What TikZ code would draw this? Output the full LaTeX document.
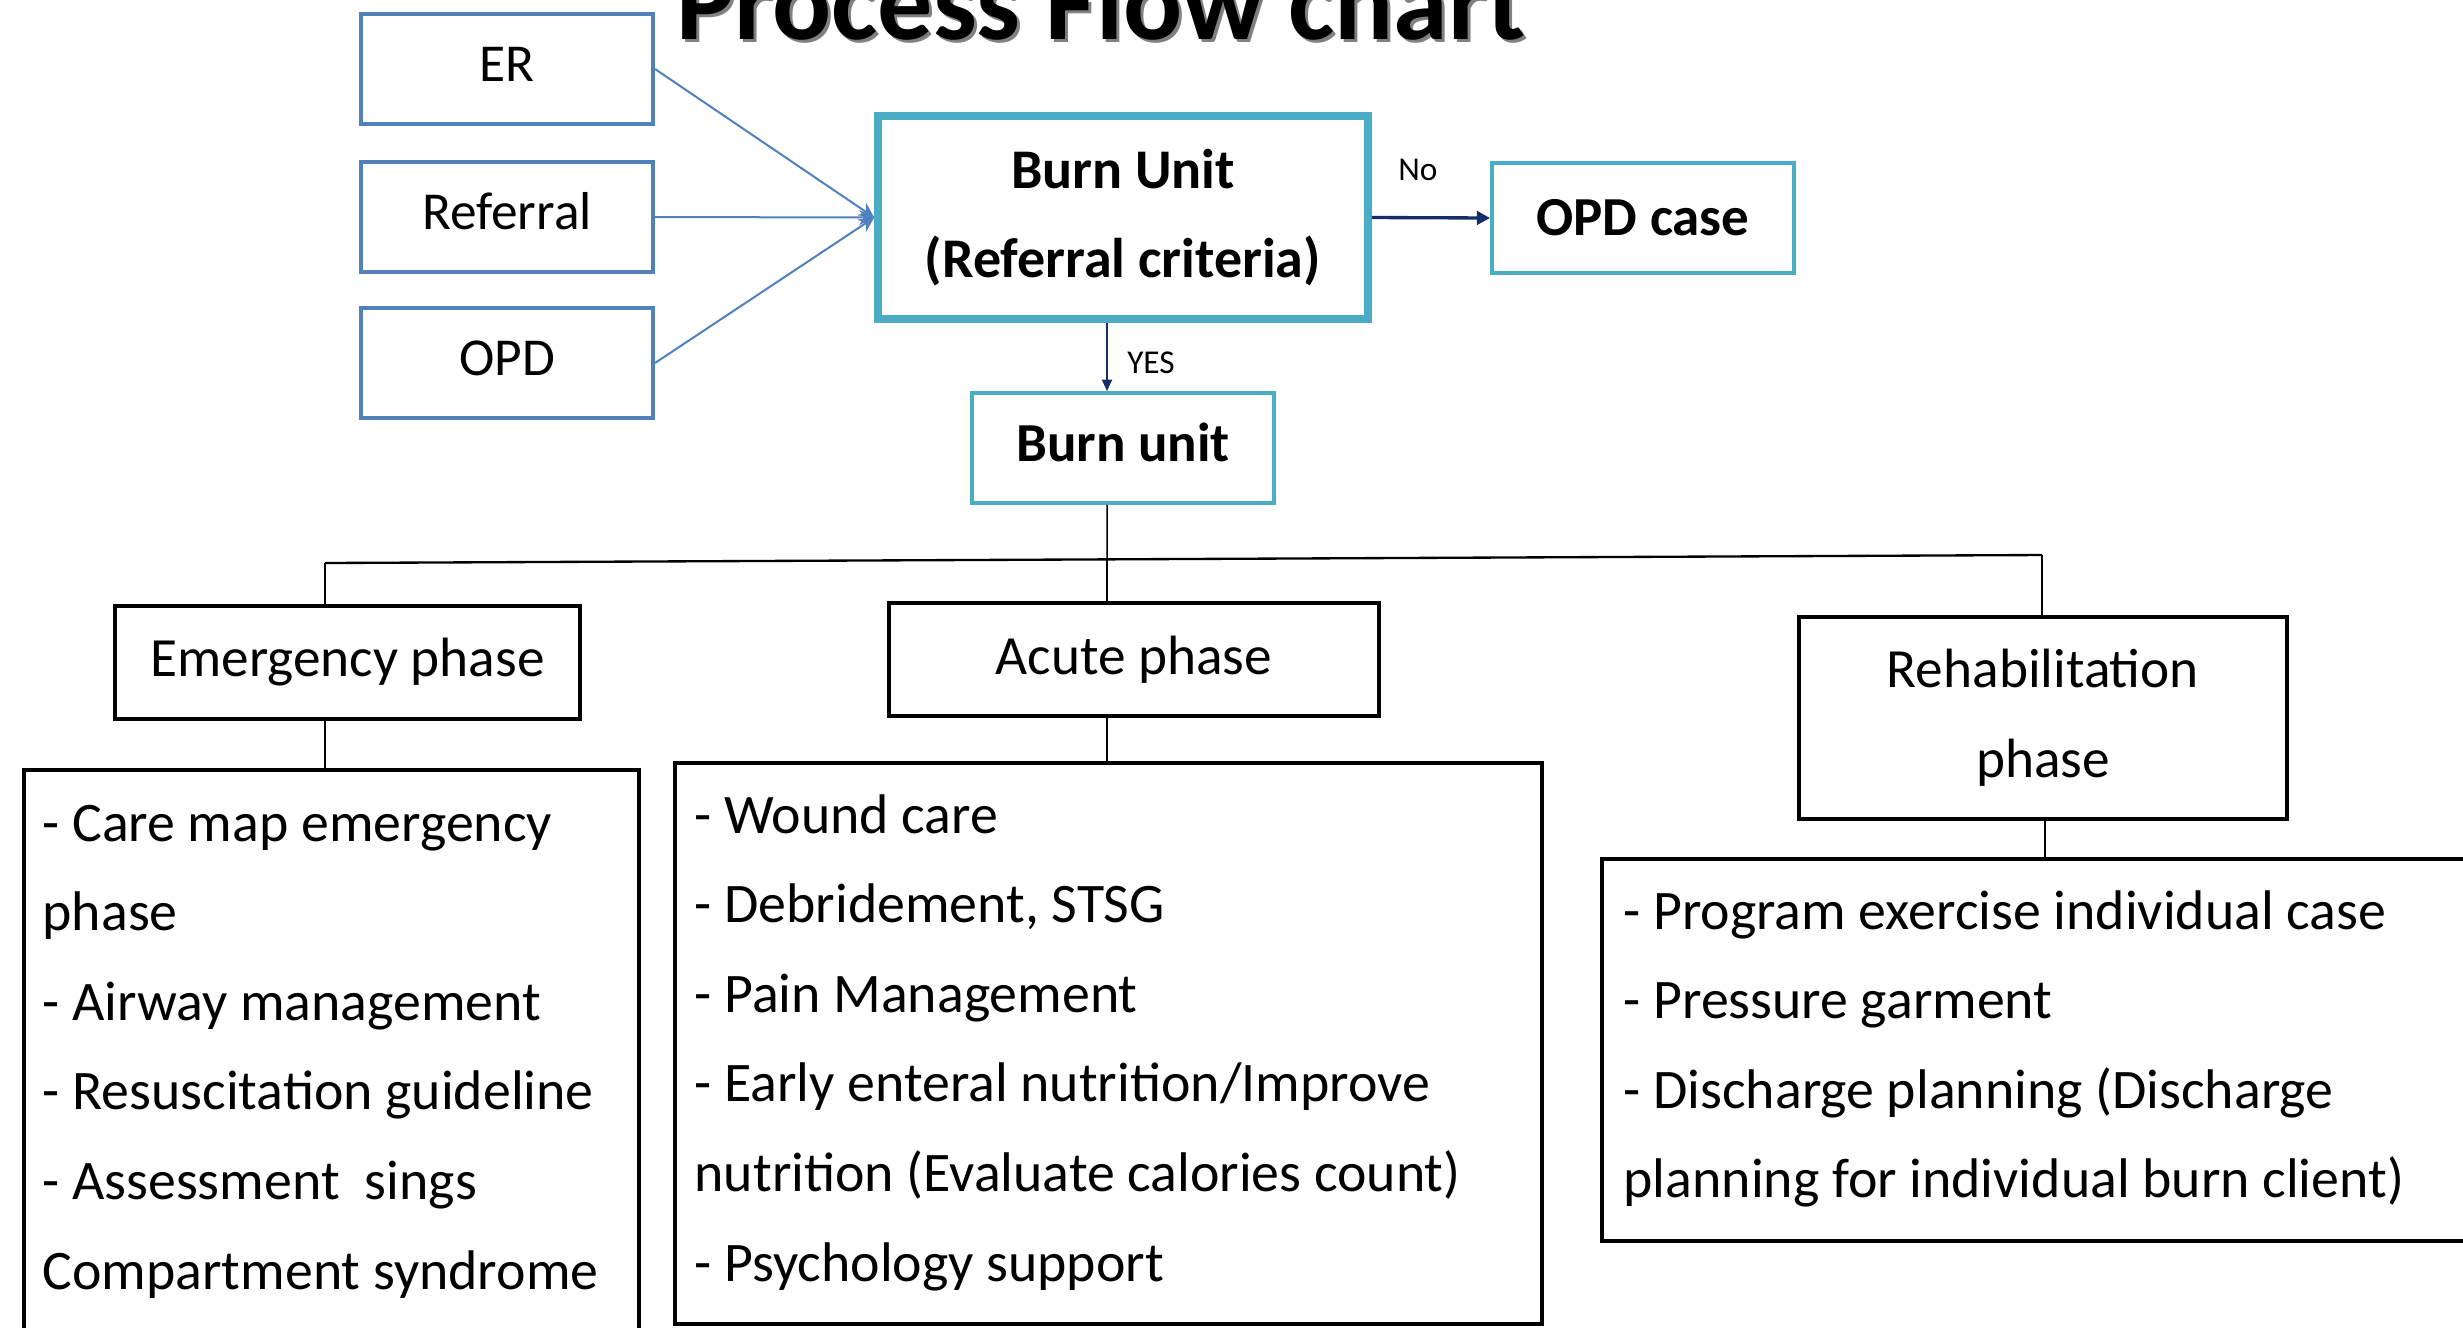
\documentclass[tikz,border=0pt]{standalone}
\usepackage{fontspec}
\setmainfont{Carlito}
\usetikzlibrary{arrows.meta}
\definecolor{srcblue}{HTML}{4F81BD}
\definecolor{cyanb}{HTML}{4BACC6}
\definecolor{navyarr}{HTML}{132E68}
\begin{document}
\begin{tikzpicture}[x=0.3pt,y=-0.3pt,
  srcbox/.style={draw=srcblue,line width=1.2pt,fill=white,minimum width=87.6pt,minimum height=33pt,inner sep=0pt,text height=10pt,text depth=2.7pt,font=\fontsize{16}{19}\selectfont},
  critbox/.style={draw=cyanb,line width=2.25pt,fill=white,minimum width=147pt,minimum height=60.9pt,inner sep=0pt,align=center,font=\fontsize{16.8}{26.5}\selectfont\bfseries},
  cyanbox/.style={draw=cyanb,line width=1.1pt,fill=white,minimum width=90.6pt,minimum height=33pt,inner sep=0pt,font=\fontsize{16.5}{19}\selectfont\bfseries},
  phasebox/.style={draw=black,line width=1.2pt,fill=white,inner sep=0pt,align=center,font=\fontsize{16.6}{27}\selectfont},
  listbox/.style={draw=black,line width=1.2pt,fill=white,inner sep=0pt},
  listtext/.style={inner sep=0pt,anchor=base west,font=\fontsize{16.75}{19}\selectfont},
  small/.style={inner sep=0pt,font=\fontsize{10}{12}\selectfont},
  srcarrow/.style={draw=srcblue,line width=0.6pt,-{Stealth[length=4.5pt,width=4.5pt]}},
  noarrow/.style={draw=navyarr,line width=1pt,-{Triangle[length=4pt,width=4pt]}},
  yesarrow/.style={draw=navyarr,line width=0.6pt,-{Triangle[length=3.5pt,width=3pt]}},
  treeline/.style={draw=black,line width=0.45pt},
  hline/.style={draw=black,line width=0.7pt}]
\useasboundingbox (0,0) rectangle (2463,1327);
\clip (0,0) rectangle (2463,1327);
% title
\node[inner sep=0pt,anchor=base,text=black!50,font=\fontsize{33}{36}\selectfont\bfseries] (tshadow) at (1104,42) {Process Flow chart};
\node[inner sep=0pt,anchor=base,font=\fontsize{33}{36}\selectfont\bfseries] (title) at (1101,39) {Process Flow chart};
% sources
\node[srcbox] (er) at (507,69) {ER};
\node[srcbox] (ref) at (507,217) {Referral};
\node[srcbox] (opd) at (507,363) {OPD};
% decision
\node[critbox] (crit) at (1123,217.5) {Burn Unit\\(Referral criteria)};
\node[cyanbox] (opdcase) at (1643,218) {OPD case};
\node[cyanbox,text height=11pt,text depth=2.7pt] (bunit) at (1123,448) {Burn unit};
% phases
\node[phasebox,minimum width=139.5pt,minimum height=33.9pt] (emerg) at (347.5,662.5) {Emergency phase};
\node[phasebox,minimum width=147pt,minimum height=33.9pt] (acute) at (1134,659.5) {Acute phase};
\node[phasebox,minimum width=146.4pt,minimum height=60.6pt] (rehab) at (2043,718) {Rehabilitation\\phase};
% lists
\node[listbox,minimum width=184.5pt,minimum height=189pt] (el) at (331.5,1085) {};
\node[listbox,minimum width=260.1pt,minimum height=168.3pt] (al) at (1108.5,1043.5) {};
\node[listbox,minimum width=269.4pt,minimum height=114.6pt] (rl) at (2051,1050) {};
\foreach \t [count=\i] in {- Care map emergency, phase, - Airway management, - Resuscitation guideline, - Assessment~ sings, Compartment syndrome}
  \node[listtext] (e\i) at (42,{841+89.6*(\i-1)}) {\t};
\foreach \t [count=\i] in {- Wound care, {- Debridement, STSG}, - Pain Management, - Early enteral nutrition/Improve, nutrition (Evaluate calories count), - Psychology support}
  \node[listtext] (a\i) at (694,{833+89.6*(\i-1)}) {\t};
\foreach \t [count=\i] in {- Program exercise individual case, - Pressure garment, - Discharge planning (Discharge, planning for individual burn client)}
  \node[listtext] (r\i) at (1623,{929+89.6*(\i-1)}) {\t};
% connectors
\draw[srcarrow] (er.east) -- (crit.west);
\draw[srcarrow] (ref.east) -- (crit.west);
\draw[srcarrow] (opd.east) -- (crit.west);
\draw[noarrow] (crit.east) -- (opdcase.west);
\draw[yesarrow] ([xshift=-4.8pt]crit.south) -- ([xshift=-4.8pt]bunit.north);
\node[small] (lno) at (1418,170) {No};
\node[small] (lyes) at (1151,363) {YES};
% tree
\coordinate (jl) at (325,563);
\coordinate (jm) at (1107,559.4);
\coordinate (jr) at (2042,555);
\draw[hline] (jl) -- (jr);
\draw[treeline] ([xshift=-4.8pt]bunit.south) -- (jm);
\draw[treeline] (jl) -- (jl |- emerg.north);
\draw[treeline] (jm) -- (jm |- acute.north);
\draw[treeline] (jr) -- (jr |- rehab.north);
\draw[treeline] (emerg.south -| jl) -- (el.north -| jl);
\draw[treeline] (acute.south -| jm) -- (al.north -| jm);
\draw[treeline] ([xshift=0.6pt]rehab.south) -- ([xshift=0.6pt]rehab.south |- rl.north);
\end{tikzpicture}
\end{document}
